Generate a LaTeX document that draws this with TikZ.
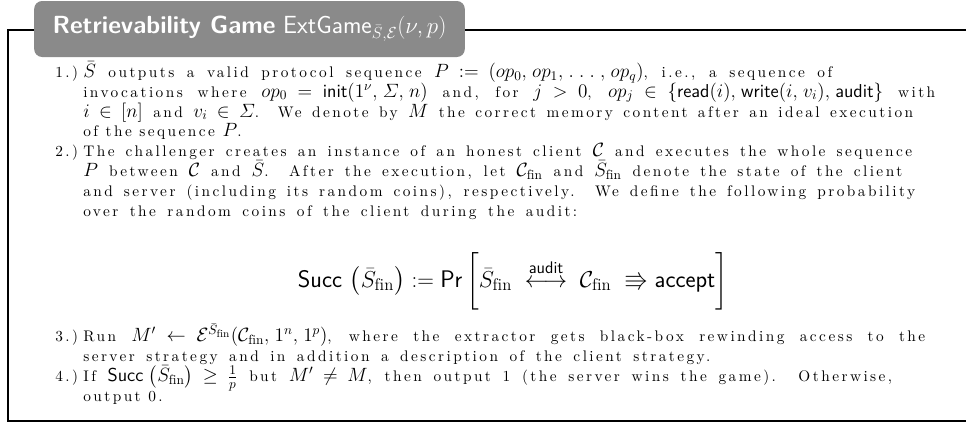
\documentclass[tikz,border=0pt]{standalone}
\usepackage{amsmath,amssymb}
\usepackage{fontspec}
\newfontfamily\spacedfont{lmroman10-regular.otf}[LetterSpace=16]
\DeclareMathSizes{11.5}{14}{10}{8}
\definecolor{titlegray}{RGB}{138,138,138}
\newdimen\mypx \mypx=0.75pt
\newcommand{\jl}[2]{\hbox to #1\mypx{#2}}
\newcommand{\widemath}{\thinmuskip=5mu\relax\medmuskip=6mu plus 1mu\relax\thickmuskip=8mu plus 1mu\relax}
\tikzset{
  frame/.style={line width=1.6pt, draw=black},
  titlebox/.style={fill=titlegray, rounded corners=6pt, minimum width=323pt, minimum height=42pt, inner sep=0pt, text=white, font=\fontsize{18.6}{20}\selectfont\sffamily},
  txt/.style={anchor=base west, inner sep=0pt, font=\fontsize{11.5}{14.9}\selectfont\spacedfont\widemath},
  eqtxt/.style={anchor=base, inner sep=0pt, font=\fontsize{18}{20}\selectfont},
}
\newcommand{\Sb}{\bar{S}}
\newcommand{\fin}{_{\mathrm{fin}}}
\begin{document}
\begin{tikzpicture}[x=0.75pt,y=-0.75pt]
\useasboundingbox (0,0) rectangle (966,425);
\draw[frame] (975,30) -- (8,30) -- (8,421) -- (975,421);
\node[titlebox] (title) at (249.5,29) {\textbf{Retrievability Game} $\mathsf{ExtGame}_{\bar{S},\mathcal{E}}(\nu,p)$};
% item 1
\node[txt] (n1) at (55,77.3) {1.)};
\node[txt] (a1) at (83,77.3) {\jl{749}{$\Sb$ outputs a valid protocol sequence $P := (op_0, op_1, \ldots, op_q)$, i.e., a sequence of}};
\node[txt] (a2) at (83,97.1) {\jl{852}{invocations where $op_0 = \mathsf{init}(1^\nu, \varSigma, n)$ and, for $j > 0$, $op_j \in \{\mathsf{read}(i), \mathsf{write}(i, v_i), \mathsf{audit}\}$ with}};
\node[txt] (a3) at (83,117) {\jl{830}{$i \in [n]$ and $v_i \in \varSigma$. We denote by $M$ the correct memory content after an ideal execution}};
\node[txt] (a4) at (83,136.8) {of the sequence $P$.};
% item 2
\node[txt] (n2) at (55,156.7) {2.)};
\node[txt] (b1) at (83,156.7) {\jl{829}{The challenger creates an instance of an honest client $\mathcal{C}$ and executes the whole sequence}};
\node[txt] (b2) at (83,176.5) {\jl{819}{$P$ between $\mathcal{C}$ and $\Sb$. After the execution, let $\mathcal{C}\fin$ and $\Sb\fin$ denote the state of the client}};
\node[txt] (b3) at (83,196.4) {\jl{832}{and server (including its random coins), respectively. We define the following probability}};
\node[txt] (b4) at (83,216.2) {\jl{494}{over the random coins of the client during the audit:}};
\node[eqtxt] (eq) at (513,287) {$\mathsf{Succ}\,\left(\Sb\fin\right) := \mathsf{Pr}\,\bigg[\Sb\fin \;\overset{\mathsf{audit}}{\longleftrightarrow}\; \mathcal{C}\fin \;\Rrightarrow \mathsf{accept}\bigg]$};
% item 3
\node[txt] (n3) at (55,341.7) {3.)};
\node[txt] (c1) at (83,341.7) {\jl{842}{Run $M' \leftarrow \mathcal{E}^{\Sb\fin}(\mathcal{C}\fin, 1^n, 1^p)$, where the extractor gets black-box rewinding access to the}};
\node[txt] (c2) at (83,361.7) {\jl{627}{server strategy and in addition a description of the client strategy.}};
% item 4
\node[txt] (n4) at (55,381.7) {4.)};
\node[txt] (d1) at (83,381.7) {\jl{809}{If $\mathsf{Succ}\left(\Sb\fin\right) \geq \frac{1}{p}$ but $M' \neq M$, then output 1 (the server wins the game). Otherwise,}};
\node[txt] (d2) at (83,401) {output 0.};
\end{tikzpicture}
\end{document}
